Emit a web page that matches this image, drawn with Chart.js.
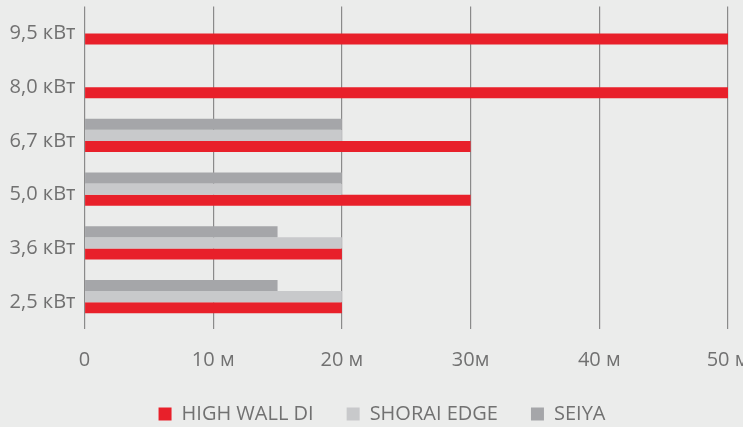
<!DOCTYPE html>
<html><head><meta charset="utf-8">
<script src="https://cdn.jsdelivr.net/npm/chart.js@4.4.1/dist/chart.umd.min.js"></script>
<style>html,body{margin:0;padding:0;background:#ebeceb;}#wrap{width:743px;height:427px;position:relative}</style>
</head><body><div id="wrap"><canvas id="c"></canvas></div>
<script>
const categories = ['9,5 кВт','8,0 кВт','6,7 кВт','5,0 кВт','3,6 кВт','2,5 кВт'];
const highWallDi = [50, 50, 30, 30, 20, 20];
const shoraiEdge = [null, null, 20, 20, 20, 20];
const seiya = [null, null, 20, 20, 15, 15];
const xTickLabels = ['0', '10 м', '20 м', '30м', '40 м', '50 м'];

const FONT = {family: "'Open Sans', sans-serif", size: 20};
const TEXT = '#717171';

new Chart(document.getElementById('c'), {
  type: 'bar',
  data: {
    labels: categories,
    datasets: [
      {label: 'SEIYA', data: seiya, backgroundColor: '#a5a6a9'},
      {label: 'SHORAI EDGE', data: shoraiEdge, backgroundColor: '#c8c9cb'},
      {label: 'HIGH WALL DI', data: highWallDi, backgroundColor: '#e8202a'},
      {label: '', data: categories.map(() => null), backgroundColor: 'rgba(0,0,0,0)'}
    ]
  },
  options: {
    indexAxis: 'y',
    responsive: true,
    maintainAspectRatio: false,
    animation: false,
    devicePixelRatio: 1,
    datasets: {bar: {categoryPercentage: 0.82, barPercentage: 1.0}},
    layout: {padding: {top: 6.5, left: 0, right: -21, bottom: 0}},
    scales: {
      x: {
        min: 0, max: 50,
        ticks: {stepSize: 10, color: TEXT, font: FONT, padding: 19, maxRotation: 0,
          callback: (v, i) => xTickLabels[i]},
        grid: {color: '#8a8a8a', lineWidth: 1.2, drawTicks: false},
        border: {display: false},
        afterFit: (s) => { s.paddingRight = 15; s.paddingLeft = 0; s.height = 42; }
      },
      y: {
        ticks: {color: TEXT, font: FONT, padding: 9},
        grid: {display: false, drawTicks: false},
        border: {display: false},
        afterFit: (s) => { s.width = 84.5; s.paddingTop = 0; s.paddingBottom = 0; }
      }
    },
    plugins: {
      tooltip: {enabled: false},
      legend: {
        position: 'bottom',
        reverse: true,
        maxHeight: 56,
        labels: {
          color: TEXT, font: FONT, boxWidth: 13, boxHeight: 13, padding: 33,
          filter: (item) => item.text !== ''
        }
      }
    }
  }
});
</script></body></html>
